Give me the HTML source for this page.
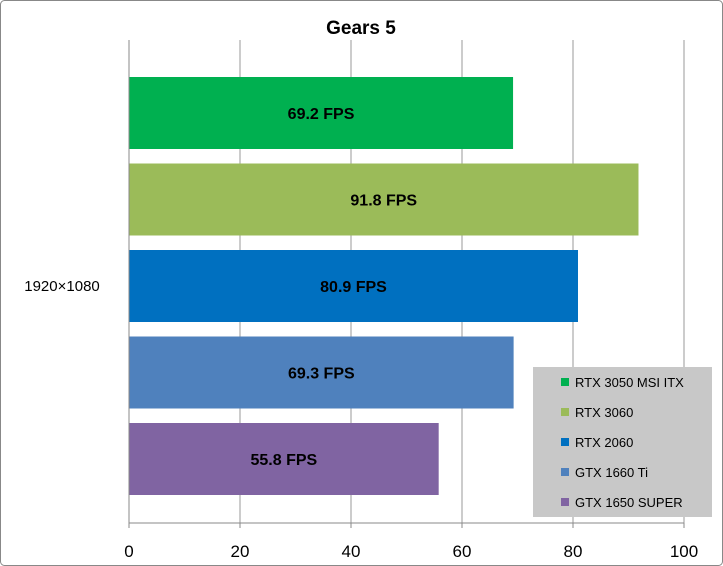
<!DOCTYPE html>
<html><head><meta charset="utf-8"><style>
body{margin:0;background:#fff;}
svg{display:block;font-family:"Liberation Sans",Calibri,sans-serif;}
</style></head><body>
<svg id="chart" width="723" height="566" viewBox="0 0 723 566">
<rect x="0.5" y="0.5" width="722" height="565" rx="4" fill="#fff" stroke="#888"/>
<text x="361" y="34" text-anchor="middle" font-size="19" font-weight="bold" fill="#000">Gears 5</text>
<text x="62" y="291" text-anchor="middle" font-size="15" fill="#000">1920×1080</text>
<g id="grid"></g>
<g id="bars"></g>
<g id="axis"></g>
<rect x="533" y="367" width="179" height="150" fill="#c8c8c8"/>
<g id="legend"></g>
</svg>
<script>
const series = ["RTX 3050 MSI ITX","RTX 3060","RTX 2060","GTX 1660 Ti","GTX 1650 SUPER"];
const values = [69.2, 91.8, 80.9, 69.3, 55.8];
const colors = ["#00b050","#9bbb59","#0070c0","#4f81bd","#8064a2"];
const ticks = [0,20,40,60,80,100];
const NS="http://www.w3.org/2000/svg";
const x0=129, x1=684, plotTop=40, plotBottom=523;
const xs=v=>x0+(v/100)*(x1-x0);
function mk(tag,attrs,parent){const e=document.createElementNS(NS,tag);for(const k in attrs)e.setAttribute(k,attrs[k]);document.getElementById(parent).appendChild(e);return e;}
ticks.forEach(t=>{
  if(t>0){const g=mk('line',{x1:xs(t),x2:xs(t),y1:plotTop,y2:plotBottom,stroke:'#999','stroke-width':1},'grid');
  
  }
  const tl=mk('text',{x:xs(t),y:557,'text-anchor':'middle','font-size':17,fill:'#000'},'axis');
  tl.textContent=t;
  
  
  const tk=mk('line',{x1:xs(t),x2:xs(t),y1:plotBottom,y2:plotBottom+5,stroke:'#888'},'axis');
  
  
});
const ax=mk('line',{x1:x0,x2:x1,y1:plotBottom,y2:plotBottom,stroke:'#888'},'axis');


const ay=mk('line',{x1:x0,x2:x0,y1:plotTop,y2:plotBottom,stroke:'#888'},'axis');


const bandTop=77, step=86.5, bh=72;
values.forEach((v,i)=>{
  const y=bandTop+i*step;
  const r=mk('rect',{x:x0,y:y,width:xs(v)-x0,height:bh,fill:colors[i]},'bars');
  
  
  const t=mk('text',{x:(x0+xs(v))/2,y:y+bh/2+6,'text-anchor':'middle','font-size':16,'font-weight':'bold',fill:'#000'},'bars');
  t.textContent=v.toFixed(1)+' FPS';
  
  
  const ly=382+i*30;
  const m=mk('rect',{x:561,y:ly-4,width:8,height:8,fill:colors[i]},'legend');
  
  
  const lt=mk('text',{x:575,y:ly+5,'font-size':13,fill:'#000'},'legend');
  lt.textContent=series[i];
  
  
});
</script>
</body></html>
